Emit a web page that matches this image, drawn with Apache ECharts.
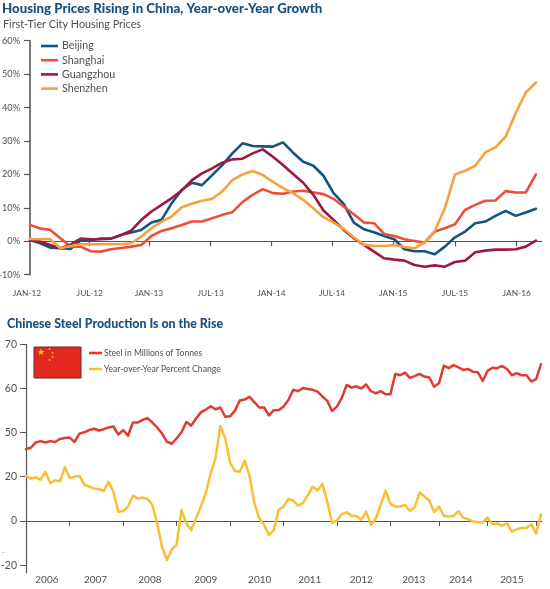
<!DOCTYPE html>
<html><head><meta charset="utf-8">
<style>html,body{margin:0;padding:0;background:#fff}#c{width:550px;height:589px}</style>
<script src="https://cdn.jsdelivr.net/npm/echarts@6/dist/echarts.min.js"></script>
</head><body><div id="c"></div>
<script>
const housingTickLabels = ['JAN-12','JUL-12','JAN-13','JUL-13','JAN-14','JUL-14','JAN-15','JUL-15','JAN-16'];
const beijing = [0.4,-0.6,-1.9,-2.1,-2.3,0.2,0.4,0.8,0.8,1.9,2.6,3.4,5.6,6.4,11.4,15.4,17.5,16.8,19.8,22.8,26.3,29.3,28.5,28.4,28.3,29.6,26.5,23.8,22.6,19.6,14.4,11.2,5.6,3.6,2.7,1.6,0.6,-2.4,-3.0,-3.0,-3.9,-1.6,1.2,2.9,5.4,5.9,7.6,9.1,7.6,8.6,9.7];
const shanghai = [4.9,3.8,3.4,0.9,-1.6,-1.6,-3.0,-3.1,-2.4,-2.0,-1.6,-1.1,1.6,3.1,3.9,4.9,5.9,5.9,6.9,7.9,8.7,11.7,13.9,15.6,14.4,14.2,14.9,15.1,14.6,14.1,12.7,10.4,8.1,5.6,5.4,2.2,1.6,0.6,0.1,-0.4,2.9,3.9,5.1,9.4,10.9,12.1,12.2,15.0,14.6,14.6,20.0];
const guangzhou = [0.4,-0.1,-1.1,-2.1,-1.0,0.8,0.6,0.6,0.8,1.9,3.2,6.4,8.9,10.9,12.9,15.2,18.3,20.3,21.8,23.5,24.5,24.7,26.3,27.5,25.3,22.8,20.1,17.5,13.9,9.2,6.4,3.4,0.9,-1.1,-3.1,-5.1,-5.5,-5.8,-7.1,-7.6,-7.2,-7.6,-6.2,-5.8,-3.3,-2.8,-2.5,-2.5,-2.4,-1.6,0.2];
const shenzhen = [0.7,0.6,0.6,-2.1,-1.4,-0.9,-0.9,-0.9,-0.9,-0.9,-0.6,1.4,3.9,5.9,7.4,10.2,11.2,12.1,12.7,14.9,18.3,20.0,21.0,19.8,17.8,15.9,14.4,12.4,9.9,7.2,5.6,3.7,1.2,-1.0,-1.4,-1.4,-1.1,-1.7,-2.1,-0.3,3.1,9.9,20.0,21.1,22.6,26.6,28.1,31.3,38.3,44.5,47.5];
const housingTickAt = [-0.3,5.9,11.75,17.85,23.85,29.85,35.9,42,48.1];

const years = ['2006','2007','2008','2009','2010','2011','2012','2013','2014','2015'];
const yearTicks = [9,20,31,42,53,64,75,85,95,105];
const yearLabelAt = [4.3,14.3,25.5,37,48.1,58.4,69,79.8,89.5,100];
const steel = [46.3,46.6,47.8,48.1,47.8,48.1,47.9,48.6,48.8,48.9,47.9,49.8,50.1,50.6,50.9,50.5,50.8,51.2,51.4,49.6,50.6,49.3,52.3,52.3,52.9,53.3,52.3,51.2,49.8,48.0,47.5,48.7,50.1,52.4,51.6,53.2,54.6,55.2,56.0,55.3,55.7,53.6,53.7,55.0,57.3,57.5,58.1,56.9,55.7,55.7,53.9,55.1,55.1,55.9,57.4,59.7,59.4,60.1,59.9,59.7,59.3,58.2,57.2,54.9,55.9,57.9,60.8,60.2,60.5,60.0,60.9,59.4,58.9,59.4,58.7,58.7,63.3,63.0,63.6,62.4,62.8,63.3,62.7,62.5,60.4,61.2,65.2,64.6,65.3,64.8,64.2,64.4,63.8,63.7,61.7,64.0,64.7,64.6,65.1,64.4,63.0,63.5,63.0,63.0,61.6,62.1,65.5];
const yoy = [20.3,19.1,19.7,18.5,22.2,17.0,18.3,17.9,24.2,19.4,20.0,20.3,16.4,15.5,14.6,14.4,13.5,17.6,13.2,4.2,4.5,6.5,11.4,10.1,10.5,9.9,7.2,-1.1,-11.6,-17.6,-12.8,-10.8,5.0,-1.1,-4.1,1.2,6.5,12.5,21.5,28.2,42.8,37.2,26.3,22.5,22.2,27.2,20.4,8.0,1.2,-1.8,-6.3,-4.1,5.0,6.5,9.9,9.2,6.9,8.0,11.7,15.5,13.8,16.7,8.7,-0.8,0.2,3.2,3.9,2.4,2.3,0.5,4.2,-1.8,1.2,7.2,13.7,7.8,6.5,6.5,7.2,4.5,6.2,12.8,11.0,9.2,4.1,6.5,2.3,2.0,2.3,4.4,1.4,0.8,-0.2,-0.6,-0.6,1.5,-1.4,-1.1,-2.1,-1.1,-4.8,-3.6,-3.2,-3.2,-1.5,-5.6,3.0];
const steelTicks = [50,60,70];
const yoyTicks = [-20,0,20];

const AXIS='#555', TXT='#505050', BLUE='#17507f';
const FONT='Lato';
const idx = a => a.map((v,i)=>[i,v]);
const line = (name,data,color,xi,yi,w) => ({name,type:'line',data:idx(data),xAxisIndex:xi,yAxisIndex:yi,
  showSymbol:false,symbol:'none',lineStyle:{color,width:w,join:'round',cap:'round'},itemStyle:{color},animation:false,silent:true});

const chart = echarts.init(document.getElementById('c'),null,{renderer:'canvas'});
chart.setOption({
  animation:false,
  backgroundColor:'#fff',
  title:[
    {text:'Housing Prices Rising in China, Year-over-Year Growth',left:2,top:2,padding:0,
     textStyle:{fontFamily:'Lato',fontWeight:900,fontSize:13.25,color:BLUE}},
    {text:'First-Tier City Housing Prices',left:3,top:19,padding:0,
     textStyle:{fontFamily:FONT,fontWeight:400,fontSize:10.8,color:TXT}},
    {text:'Chinese Steel Production Is on the Rise',left:7,top:318,padding:0,
     textStyle:{fontFamily:'Lato',fontWeight:900,fontSize:12.4,color:BLUE}}
  ],
  legend:[
    {left:41,top:40.5,orient:'vertical',icon:'rect',itemWidth:17,itemHeight:2.6,itemGap:3.2,padding:0,
     data:['Beijing','Shanghai','Guangzhou','Shenzhen'],
     textStyle:{fontFamily:FONT,fontSize:10.7,color:TXT,padding:[0,0,0,-1],lineHeight:11}},
    {left:89,top:348,orient:'vertical',icon:'rect',itemWidth:13,itemHeight:2.6,itemGap:6,padding:0,
     data:['Steel in Millions of Tonnes','Year-over-Year Percent Change'],
     textStyle:{fontFamily:FONT,fontSize:8.6,color:TXT,padding:[0,0,0,-3],lineHeight:10}}
  ],
  grid:[
    {left:27,right:8,top:40.7,bottom:589-274.7,outerBoundsMode:'none'},
    {left:26,right:8,top:344.3,bottom:589-572.7,outerBoundsMode:'none'}
  ],
  xAxis:[
    {gridIndex:0,type:'value',min:-0.3,max:50.6,splitLine:{show:false},
     axisLine:{onZero:true,lineStyle:{color:AXIS,width:1.2}},
     axisTick:{show:true,length:5,customValues:housingTickAt.slice(1),lineStyle:{color:AXIS,width:1.2}},
     axisLabel:{show:false}},
    {gridIndex:0,type:'value',min:-0.3,max:50.6,position:'bottom',splitLine:{show:false},
     axisLine:{show:false,onZero:false},axisTick:{show:false},
     axisLabel:{show:true,customValues:housingTickAt,margin:14.5,hideOverlap:false,showMinLabel:true,showMaxLabel:true,
       fontFamily:FONT,fontSize:8.4,color:TXT,
       formatter:v=>housingTickLabels[housingTickAt.indexOf(v)]||''}},
    {gridIndex:1,type:'value',min:0,max:106.2,splitLine:{show:false},
     axisLine:{onZero:true,onZeroAxisIndex:2,lineStyle:{color:AXIS,width:1}},
     axisTick:{show:true,length:5,customValues:yearTicks,lineStyle:{color:AXIS,width:1}},
     axisLabel:{show:false}},
    {gridIndex:1,type:'value',min:0,max:106.2,position:'bottom',splitLine:{show:false},
     axisLine:{show:false,onZero:false},axisTick:{show:false},
     axisLabel:{show:true,customValues:yearLabelAt,margin:2,hideOverlap:false,
       fontFamily:FONT,fontSize:10,color:TXT,
       formatter:v=>years[yearLabelAt.indexOf(v)]||''}}
  ],
  yAxis:[
    {gridIndex:0,type:'value',min:-10,max:60,interval:10,offset:-3,splitLine:{show:false},
     axisLine:{show:true,lineStyle:{color:AXIS,width:1.6}},
     axisTick:{show:true,length:6,lineStyle:{color:AXIS,width:1.2}},
     axisLabel:{margin:10,fontFamily:FONT,fontSize:9.2,color:TXT,formatter:'{value}%'}},
    {gridIndex:1,type:'value',min:18.33,max:70,splitLine:{show:false},
     axisLine:{show:true,lineStyle:{color:AXIS,width:1.2}},
     axisTick:{show:true,length:6,customValues:steelTicks,lineStyle:{color:AXIS,width:1}},
     axisLabel:{margin:9,customValues:steelTicks,fontFamily:FONT,fontSize:10.5,color:TXT}},
    {gridIndex:1,type:'value',min:-23.3,max:79.6,position:'left',splitLine:{show:false},
     axisLine:{show:false,onZero:false},
     axisTick:{show:true,length:6,customValues:yoyTicks,lineStyle:{color:AXIS,width:1}},
     axisLabel:{margin:9,customValues:yoyTicks,fontFamily:FONT,fontSize:10.5,color:TXT}}
  ],
  series:[
    line('Beijing',beijing,'#13557f',0,0,2.6),
    line('Shanghai',shanghai,'#ee4d38',0,0,2.6),
    line('Guangzhou',guangzhou,'#9e1846',0,0,2.6),
    line('Shenzhen',shenzhen,'#f4a23c',0,0,2.6),
    line('Steel in Millions of Tonnes',steel,'#e03a33',2,1,2.5),
    line('Year-over-Year Percent Change',yoy,'#f8bf34',2,2,2.5)
  ],
  graphic:[
    {type:'rect',shape:{x:34,y:347,width:47,height:31},style:{fill:'#e1291f',stroke:'#6a2a26',lineWidth:1},z:10},
    {type:'text',x:37,y:348,style:{text:'★',fontFamily:'DejaVu Sans',fontSize:9,fill:'#f8d21a'},z:11},
    {type:'text',x:48,y:347.5,style:{text:'★',fontFamily:'DejaVu Sans',fontSize:3.5,fill:'#f8d21a'},z:11},
    {type:'text',x:51,y:351,style:{text:'★',fontFamily:'DejaVu Sans',fontSize:3.5,fill:'#f8d21a'},z:11},
    {type:'text',x:51,y:355,style:{text:'★',fontFamily:'DejaVu Sans',fontSize:3.5,fill:'#f8d21a'},z:11},
    {type:'text',x:48,y:358.5,style:{text:'★',fontFamily:'DejaVu Sans',fontSize:3.5,fill:'#f8d21a'},z:11},
    {type:'text',x:2,y:548,style:{text:'-',fontFamily:FONT,fontSize:8,fill:'#888'},z:11}
  ]
});
</script></body></html>
